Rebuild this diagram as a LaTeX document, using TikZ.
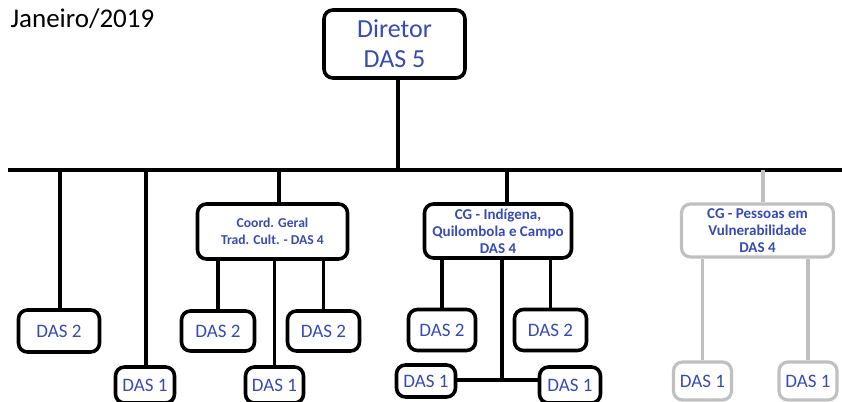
\documentclass[tikz,border=0pt]{standalone}
\usepackage{fontspec}
\setmainfont{Carlito}
\definecolor{txtblue}{RGB}{55,75,180}
\definecolor{lgray}{RGB}{192,192,192}
\begin{document}
\begin{tikzpicture}[x=1pt,y=-1pt,
  box/.style={draw=black,line width=3.6pt,rounded corners=9pt,fill=white,inner sep=0pt,align=center,text=txtblue},
  gbox/.style={box,draw=lgray,line width=3.2pt},
  conn/.style={line width=3.6pt,black},
  gconn/.style={line width=3.2pt,lgray},
  small/.style={font=\fontsize{19}{21}\selectfont},
  mid/.style={font=\bfseries\fontsize{15}{17}\selectfont}]
\useasboundingbox (0,0) rectangle (842,401);
\clip (0,0) rectangle (842,401);
\node[anchor=base west,font=\fontsize{27}{30}\selectfont] (title) at (7,28) {Janeiro/2019};
\node[box,minimum width=141pt,minimum height=68pt,font=\fontsize{26}{30}\selectfont] (dir) at (394.5,44) {Diretor\\DAS 5};
\coordinate (barL) at (8,170);
\coordinate (barR) at (842,170);
\coordinate (j0) at (398,170);
\coordinate (j1) at (60,170);
\coordinate (j2) at (146,170);
\coordinate (j3) at (279,170);
\coordinate (j4) at (507,170);
\coordinate (j5) at (763,170);
% nodes
\node[box,small,minimum width=81pt,minimum height=42pt] (d2a) at (59,331) {DAS 2};
\node[box,small,minimum width=59pt,minimum height=36pt] (d1a) at (145,385) {DAS 1};
\node[box,mid,minimum width=150pt,minimum height=55pt,font=\bfseries\fontsize{13.6}{17}\selectfont] (coord) at (272.5,231.5) {Coord. Geral\\Trad. Cult. - DAS 4};
\node[box,small,minimum width=73pt,minimum height=40pt] (d2b) at (218,331) {DAS 2};
\node[box,small,minimum width=72pt,minimum height=40pt] (d2c) at (323.5,331) {DAS 2};
\node[box,small,minimum width=58pt,minimum height=36pt] (d1b) at (274.5,385) {DAS 1};
\node[box,mid,minimum width=147pt,minimum height=54pt] (cgi) at (498,231) {CG - Indígena,\\Quilombola e Campo\\DAS 4};
\node[box,small,minimum width=67pt,minimum height=41pt] (d2d) at (442,330) {DAS 2};
\node[box,small,minimum width=72pt,minimum height=41pt] (d2e) at (550.5,330) {DAS 2};
\node[box,small,minimum width=59pt,minimum height=32pt] (d1d) at (426,381) {DAS 1};
\node[box,small,minimum width=61pt,minimum height=36pt] (d1e) at (570,385) {DAS 1};
\node[gbox,mid,minimum width=152pt,minimum height=53pt] (cgp) at (757.5,230.5) {CG - Pessoas em\\Vulnerabilidade\\DAS 4};
\node[gbox,small,minimum width=58pt,minimum height=38pt] (d1f) at (702.5,381) {DAS 1};
\node[gbox,small,minimum width=58pt,minimum height=38pt] (d1g) at (808,381) {DAS 1};
\coordinate (jn) at (502,380);
% connectors
\draw[conn] (j0 |- dir.south) -- (j0);
\draw[conn] (barL) -- (barR);
\draw[conn] (j1) -- (j1 |- d2a.north);
\draw[conn] (j2) -- (j2 |- d1a.north);
\draw[conn] (j3) -- (j3 |- coord.north);
\draw[conn] (j4) -- (j4 |- cgi.north);
\draw[gconn] (j5) -- (j5 |- cgp.north);
\draw[conn] (d2b.north) -- (d2b.north |- coord.south);
\draw[conn] (d1b.north) -- (d1b.north |- coord.south);
\draw[conn] (d2c.north) -- (d2c.north |- coord.south);
\draw[conn] (d2d.north) -- (d2d.north |- cgi.south);
\draw[conn] (d2e.north) -- (d2e.north |- cgi.south);
\draw[conn] (jn |- cgi.south) -- (jn);
\draw[conn] (d1d.east |- jn) -- (d1e.west |- jn);
\draw[gconn] (d1f.north) -- (d1f.north |- cgp.south);
\draw[gconn] (d1g.north) -- (d1g.north |- cgp.south);
\end{tikzpicture}
\end{document}
